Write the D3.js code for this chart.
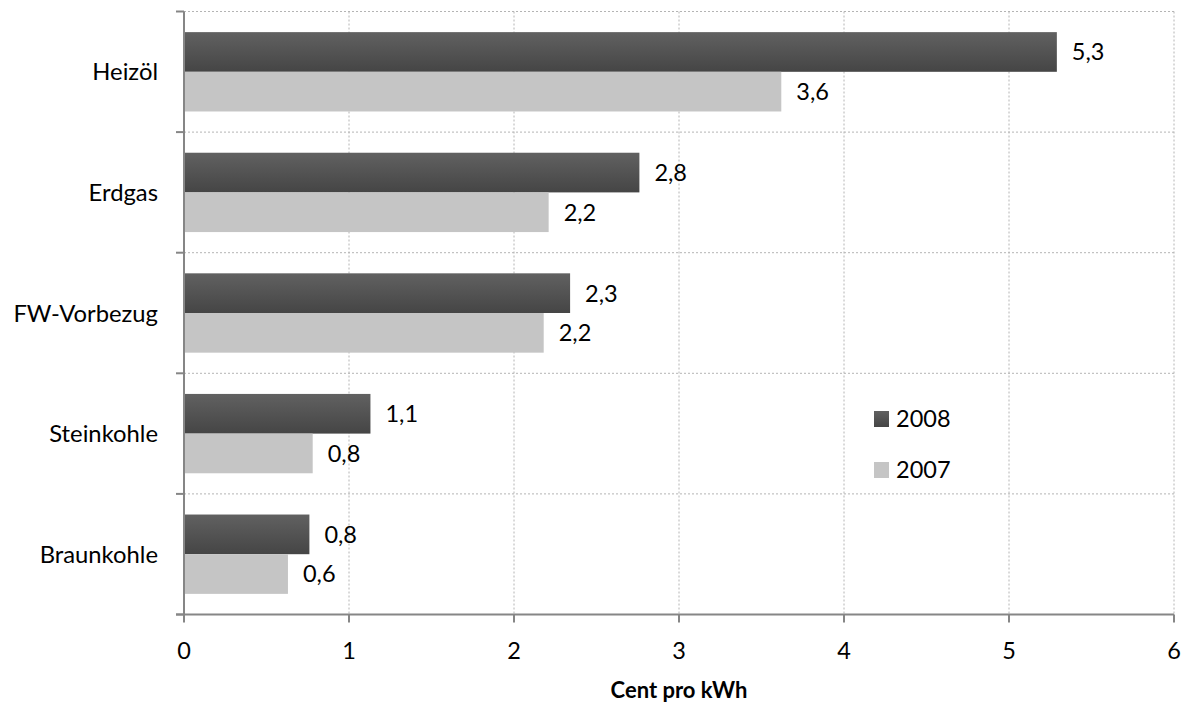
<!DOCTYPE html>
<html><head><meta charset="utf-8">
<script src="https://cdn.jsdelivr.net/npm/d3@7"></script>
<style>body{margin:0;background:#fff}text{font-family:Lato,"Open Sans",sans-serif;fill:#000}</style>
</head><body><svg id="c" width="1184" height="702"></svg>
<script>
const categories = ["Heizöl","Erdgas","FW-Vorbezug","Steinkohle","Braunkohle"];
const series = ["2008","2007"];
const values2008 = [5.29, 2.76, 2.34, 1.13, 0.76];
const values2007 = [3.62, 2.21, 2.18, 0.78, 0.63];
const labels2008 = ["5,3","2,8","2,3","1,1","0,8"];
const labels2007 = ["3,6","2,2","2,2","0,8","0,6"];
const xTicks = [0,1,2,3,4,5,6];
const xTitle = "Cent pro kWh";

const svg = d3.select("#c");
const L = 184, R = 1174, T = 11.5, B = 614.5;
const x = d3.scaleLinear().domain([0,6]).range([L,R]);
const y0 = d3.scaleBand().domain(categories).range([T,B]).padding(0);
const y1 = d3.scaleBand().domain(series).range([0,y0.bandwidth()]).paddingInner(0).paddingOuter(0.52);

const defs = svg.append("defs");
const g = defs.append("linearGradient").attr("id","dark").attr("x1",0).attr("x2",0).attr("y1",0).attr("y2",1);
g.append("stop").attr("offset","0%").attr("stop-color","#616161");
g.append("stop").attr("offset","100%").attr("stop-color","#454545");

// gridlines
const grid = svg.append("g");
grid.selectAll("line.v").data(xTicks.slice(1)).join("line")
  .attr("x1",d=>x(d)).attr("x2",d=>x(d)).attr("y1",T).attr("y2",B)
  .attr("stroke","#b4b4b4").attr("stroke-width",1).attr("stroke-dasharray","2,2");
const bounds = categories.map(c=>y0(c));
grid.selectAll("line.h").data(bounds).join("line")
  .attr("x1",L).attr("x2",R).attr("y1",d=>d).attr("y2",d=>d)
  .attr("stroke","#b4b4b4").attr("stroke-width",1).attr("stroke-dasharray","2,2");

// bars
const data = categories.map((c,i)=>({c, v:[{s:"2008",v:values2008[i],l:labels2008[i]},{s:"2007",v:values2007[i],l:labels2007[i]}]}));
const colors = {"2008":"url(#dark)","2007":"#c5c5c5"};
const grp = svg.append("g").selectAll("g").data(data).join("g")
  .attr("transform",d=>`translate(0,${y0(d.c)})`);
grp.selectAll("rect").data(d=>d.v).join("rect")
  .attr("x",x(0)).attr("y",d=>y1(d.s)).attr("width",d=>x(d.v)-x(0)).attr("height",y1.bandwidth())
  .attr("fill",d=>colors[d.s]);
grp.selectAll("text").data(d=>d.v).join("text")
  .attr("x",d=>x(d.v)+15).attr("y",d=>y1(d.s)+y1.bandwidth()/2).attr("dy","0.36em")
  .attr("font-size",23.5).text(d=>d.l);

// axes
const axC = "#868686";
const yAxis = svg.append("g").attr("transform",`translate(${L},0)`);
yAxis.append("line").attr("x1",0).attr("x2",0).attr("y1",T).attr("y2",B).attr("stroke",axC).attr("stroke-width",2);
yAxis.selectAll("line.t").data(bounds.concat([B])).join("line")
  .attr("x1",-8).attr("x2",0).attr("y1",d=>d).attr("y2",d=>d).attr("stroke",axC).attr("stroke-width",2);
yAxis.selectAll("text").data(categories).join("text")
  .attr("x",-26).attr("y",d=>y0(d)+y0.bandwidth()/2).attr("dy","0.36em")
  .attr("text-anchor","end").attr("font-size",23.8).text(d=>d);

const xAxis = svg.append("g").attr("transform",`translate(0,${B})`);
xAxis.append("line").attr("x1",L-8).attr("x2",R).attr("stroke",axC).attr("stroke-width",2);
xAxis.selectAll("line.t").data(xTicks).join("line")
  .attr("x1",d=>x(d)).attr("x2",d=>x(d)).attr("y1",0).attr("y2",8).attr("stroke",axC).attr("stroke-width",2);
xAxis.selectAll("text").data(xTicks).join("text")
  .attr("x",d=>x(d)).attr("y",36).attr("dy","0.36em").attr("text-anchor","middle").attr("font-size",23.5).text(d=>d);
svg.append("text").attr("x",(L+R)/2).attr("y",690).attr("dy","0.36em").attr("text-anchor","middle")
  .attr("font-size",22).attr("font-weight","bold").text(xTitle);

// legend
const leg = svg.append("g");
series.forEach((s,i)=>{
  const yy = 411 + i*51;
  leg.append("rect").attr("x",874).attr("y",yy).attr("width",15).attr("height",16).attr("fill",colors[s]);
  leg.append("text").attr("x",896).attr("y",yy+8).attr("dy","0.36em").attr("font-size",23.5).text(s);
});
</script></body></html>
